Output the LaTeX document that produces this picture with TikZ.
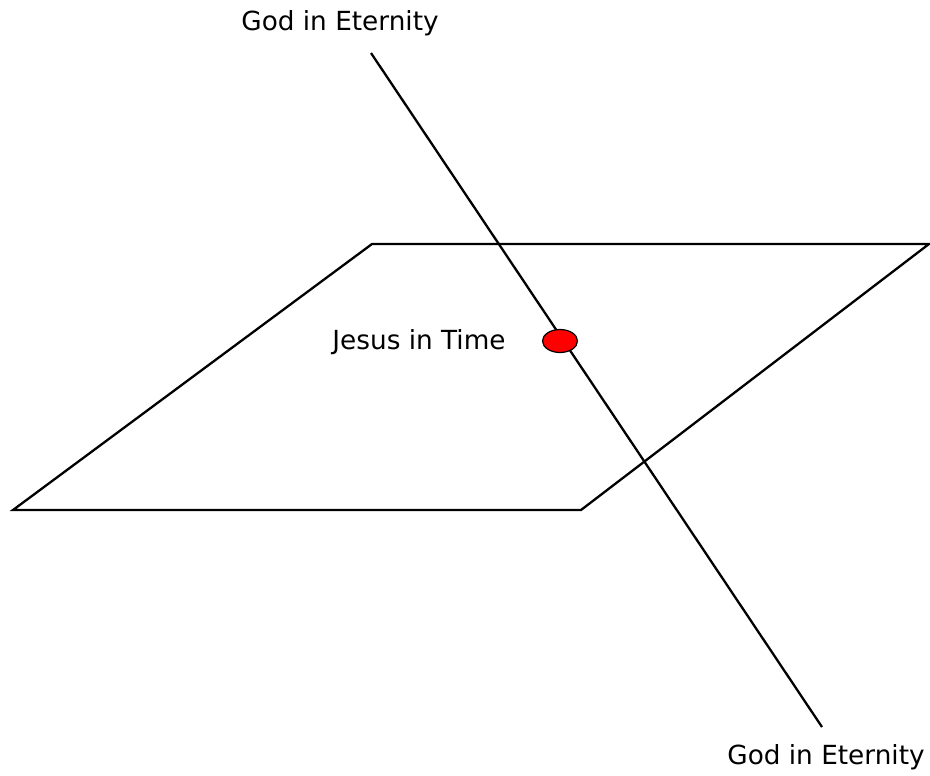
\documentclass[tikz,border=0pt]{standalone}
\usepackage{fontspec}
\setmainfont{DejaVu Sans}
\usetikzlibrary{shapes.geometric}
\begin{document}
\begin{tikzpicture}[x=1pt,y=-1pt,
  edge/.style={line width=2.3pt,black},
  lbl/.style={font=\fontsize{26.3}{31}\selectfont,inner sep=0pt},
  dot/.style={ellipse,draw=black,line width=1.2pt,fill=red,minimum width=35pt,minimum height=23pt,inner sep=0pt}]
\useasboundingbox (0,0) rectangle (930,776);
\coordinate (tl) at (372,244);
\coordinate (tr) at (929,244);
\coordinate (br) at (581,510);
\coordinate (bl) at (13,510);
\draw[edge,line join=miter] (tl) -- (tr) -- (br) -- (bl) -- cycle;
\coordinate (top) at (371,53);
\coordinate (bot) at (822,727);
\draw[edge] (top) -- (bot);
\node[dot] (jesus) at (560,341) {};
\node[lbl,anchor=base] (gtop) at (340,31) {God in Eternity};
\node[lbl,anchor=base] (gbot) at (826,764) {God in Eternity};
\node[lbl] (jt) at (419,342) {Jesus in Time};
\end{tikzpicture}
\end{document}
